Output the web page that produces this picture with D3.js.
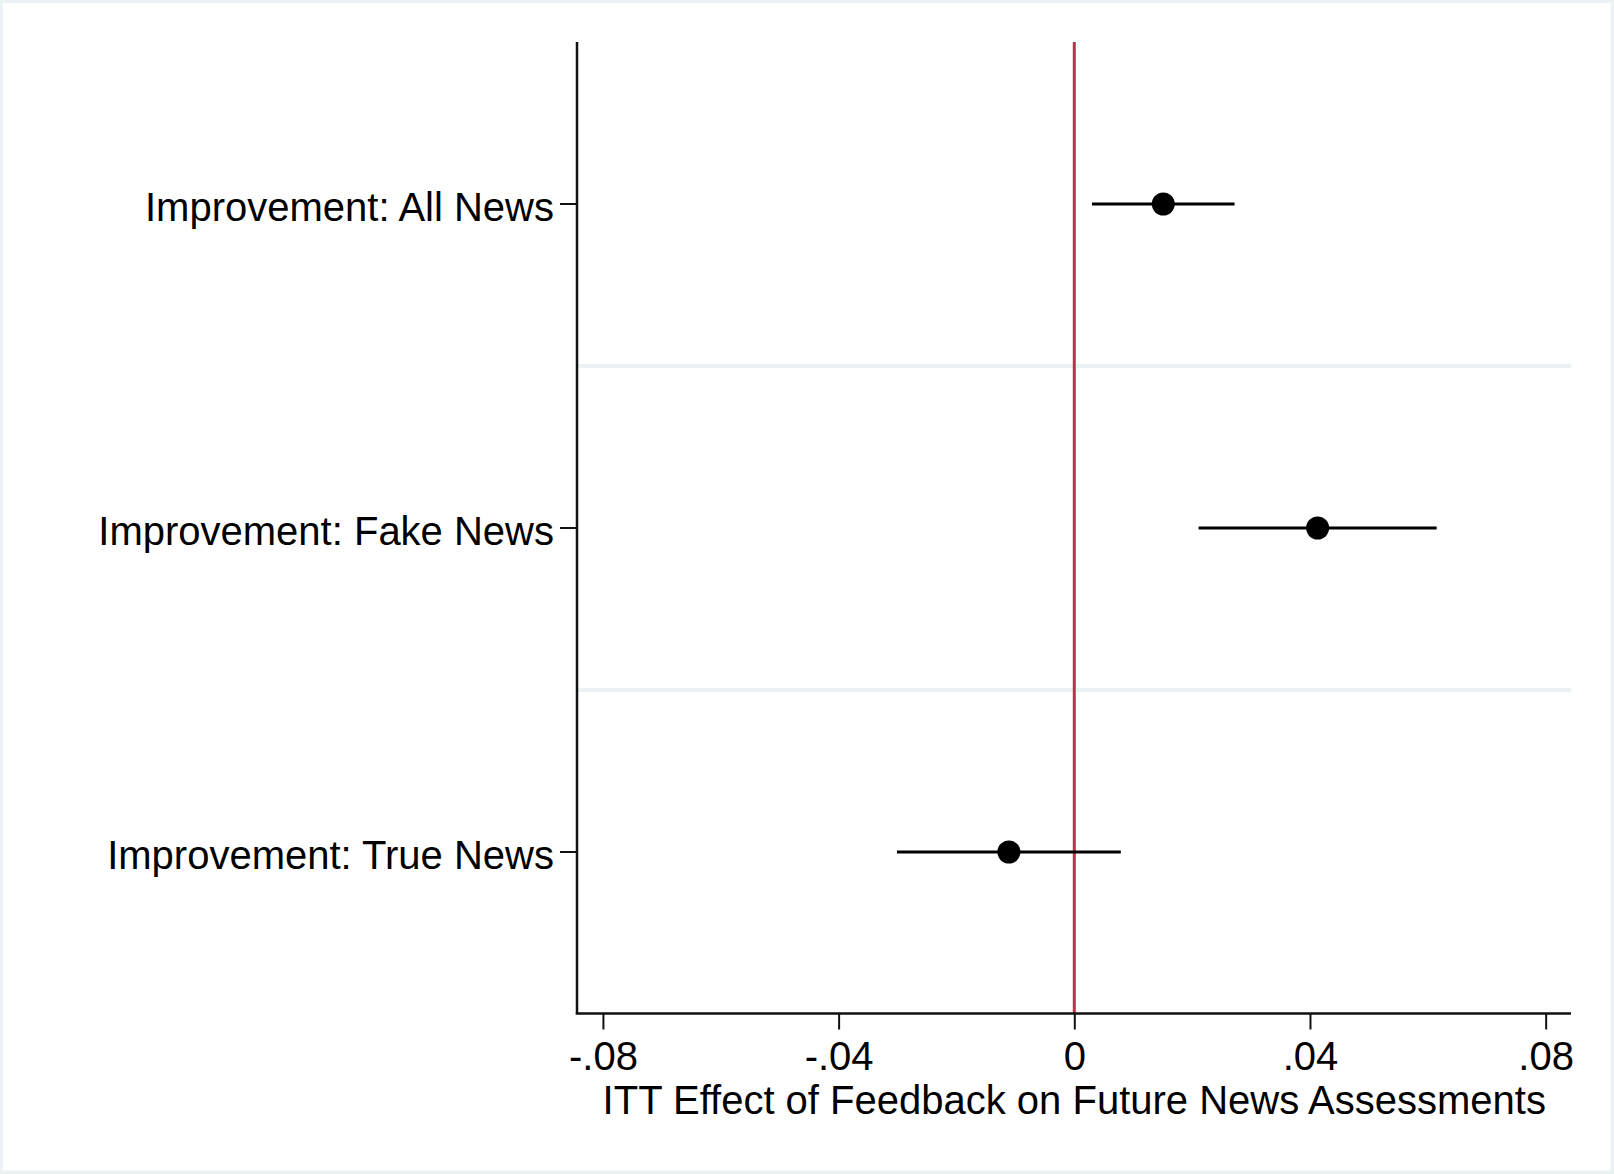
<!DOCTYPE html>
<html>
<head>
<meta charset="utf-8">
<script src="https://cdn.jsdelivr.net/npm/d3@7"></script>
<style>
  html, body { margin: 0; padding: 0; background: #eaf2f3; }
  svg { display: block; }
  text { font-family: "Liberation Sans", Arial, Helvetica, sans-serif; fill: #000; }
</style>
</head>
<body>
<script>
// ---- Data ----
const categories = ["Improvement: All News", "Improvement: Fake News", "Improvement: True News"];
const estimates  = [0.0151, 0.0413, -0.0111];
const ciLower    = [0.0030, 0.0211, -0.0301];
const ciUpper    = [0.0272, 0.0615, 0.0079];
const xTickValues = [-0.08, -0.04, 0, 0.04, 0.08];
const xTickLabels = ["-.08", "-.04", "0", ".04", ".08"];
const xTitle = "ITT Effect of Feedback on Future News Assessments";

// ---- Layout ----
const W = 1614, H = 1174;
const plot = { left: 577, right: 1571, top: 42, bottom: 1014 };
const fontSize = 40;

const svg = d3.select("body").append("svg").attr("width", W).attr("height", H);

// frame / background
svg.append("rect").attr("x", 0).attr("y", 0).attr("width", W).attr("height", H).attr("fill", "#eaf2f3");
svg.append("rect").attr("x", 3).attr("y", 3).attr("width", W - 6.5).attr("height", H - 6.5).attr("fill", "#ffffff");

const x = d3.scaleLinear().domain([-0.0844, 0.0843]).range([plot.left, plot.right]);
const y = d3.scaleBand().domain(categories).range([plot.top, plot.bottom]).padding(0);

// band separators
const seps = categories.slice(1);
svg.append("g").selectAll("line").data(seps).join("line")
  .attr("x1", plot.left + 1).attr("x2", plot.right)
  .attr("y1", d => y(d)).attr("y2", d => y(d))
  .attr("stroke", "#eaf2f3").attr("stroke-width", 4);

// reference line at 0
svg.append("line")
  .attr("x1", x(0)).attr("x2", x(0))
  .attr("y1", plot.top).attr("y2", plot.bottom)
  .attr("stroke", "#c0304a").attr("stroke-width", 3);

// x axis
const xAxis = d3.axisBottom(x)
  .tickValues(xTickValues)
  .tickFormat((d, i) => xTickLabels[i])
  .tickSizeInner(16).tickSizeOuter(0).tickPadding(12);
const gx = svg.append("g").attr("transform", `translate(0,${plot.bottom - 0.5})`).call(xAxis);
gx.select(".domain").attr("stroke", "#111").attr("stroke-width", 2.5)
  .attr("d", `M${plot.left - 1.25},0H${plot.right}`);
gx.selectAll(".tick line").attr("stroke", "#111").attr("stroke-width", 2);
gx.selectAll(".tick text").attr("font-size", fontSize).attr("font-family", null).attr("fill", "#000");

// y axis
const yAxis = d3.axisLeft(y).tickSizeInner(17).tickSizeOuter(0).tickPadding(6);
const gy = svg.append("g").attr("transform", `translate(${plot.left},0)`).call(yAxis);
gy.select(".domain").attr("stroke", "#111").attr("stroke-width", 2.5)
  .attr("d", `M0,${plot.top}V${plot.bottom}`);
gy.selectAll(".tick line").attr("stroke", "#111").attr("stroke-width", 2);
gy.selectAll(".tick text").attr("font-size", fontSize).attr("font-family", null).attr("fill", "#000")
  .attr("dy", "0.42em");

// x title
svg.append("text")
  .attr("x", x(0)).attr("y", 1114)
  .attr("text-anchor", "middle")
  .attr("font-size", fontSize)
  .text(xTitle);

// confidence intervals
const rows = categories.map((c, i) => ({ c, est: estimates[i], lo: ciLower[i], hi: ciUpper[i] }));
svg.append("g").selectAll("line").data(rows).join("line")
  .attr("x1", d => x(d.lo)).attr("x2", d => x(d.hi))
  .attr("y1", d => y(d.c) + y.bandwidth() / 2).attr("y2", d => y(d.c) + y.bandwidth() / 2)
  .attr("stroke", "#000").attr("stroke-width", 3);

// point estimates
svg.append("g").selectAll("circle").data(rows).join("circle")
  .attr("cx", d => x(d.est))
  .attr("cy", d => y(d.c) + y.bandwidth() / 2)
  .attr("r", 11.5)
  .attr("fill", "#000");
</script>
</body>
</html>
